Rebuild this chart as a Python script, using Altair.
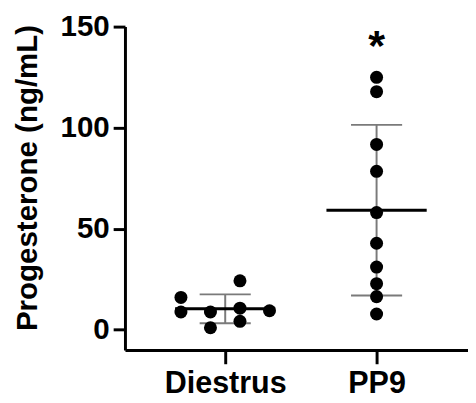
import altair as alt
import pandas as pd

# ---- data ----
groups = ["Diestrus", "PP9"]
diestrus_values = [16.0, 8.8, 8.8, 1.0, 24.2, 10.7, 4.2, 9.4]
diestrus_slots = [-1.5, -1.5, -0.5, -0.5, 0.5, 0.5, 0.5, 1.5]
pp9_values = [124.9, 117.8, 91.7, 78.4, 58.0, 42.8, 31.0, 22.8, 16.4, 7.8]
pp9_slots = [0, 0, 0, 0, 0, 0, 0, 0, 0, 0]
y_ticks = [0, 50, 100, 150]
star_label = "*"
star_value = 142

SLOT_W = 0.195  # horizontal spacing of beeswarm columns, in x units

rows = []
for v, s in zip(diestrus_values, diestrus_slots):
    rows.append({"group": "Diestrus", "gi": 1, "value": v, "xp": 1 + s * SLOT_W})
for v, s in zip(pp9_values, pp9_slots):
    rows.append({"group": "PP9", "gi": 2, "value": v, "xp": 2 + s * SLOT_W})
df = pd.DataFrame(rows)

star_df = pd.DataFrame({"gi": [2], "value": [star_value], "label": [star_label]})

FONT = "Liberation Sans"
xscale = alt.Scale(domain=[0.3377, 2.604], nice=False, zero=False)
yscale = alt.Scale(domain=[-10, 150], nice=False, zero=False)

xaxis = alt.Axis(
    values=[1, 2],
    labelExpr="datum.value == 1 ? 'Diestrus' : 'PP9'",
    title=None, grid=False,
    domainColor="black", domainWidth=3,
    tickColor="black", tickWidth=3, tickSize=14,
    labelFont=FONT, labelFontWeight="bold", labelFontSize=31,
    labelColor="black", labelPadding=5, labelFlush=False,
)
yaxis = alt.Axis(
    values=y_ticks, grid=False,
    title="Progesterone (ng/mL)",
    titleFont=FONT, titleFontWeight="bold", titleFontSize=30, titleColor="black",
    titleX=-84, titleY=153.5, titleBaseline="bottom", titleAngle=-90,
    domainColor="black", domainWidth=3,
    tickColor="black", tickWidth=3, tickSize=12,
    labelFont=FONT, labelFontWeight="bold", labelFontSize=30,
    labelColor="black", labelPadding=4,
)

base = alt.Chart(df)

stats = base.transform_aggregate(
    mean="mean(value)", sd="stdev(value)", groupby=["gi"]
).transform_calculate(
    lo="datum.mean - datum.sd", hi="datum.mean + datum.sd"
)

sd_rule = stats.mark_rule(color="#7a7a7a", strokeWidth=2).encode(
    x=alt.X("gi:Q", scale=xscale, axis=xaxis),
    y=alt.Y("lo:Q", scale=yscale, axis=yaxis),
    y2="hi:Q",
)
cap_hi = stats.mark_tick(orient="horizontal", size=52, thickness=2, color="#7a7a7a", opacity=1).encode(
    x=alt.X("gi:Q", scale=xscale), y=alt.Y("hi:Q", scale=yscale)
)
cap_lo = stats.mark_tick(orient="horizontal", size=52, thickness=2, color="#7a7a7a", opacity=1).encode(
    x=alt.X("gi:Q", scale=xscale), y=alt.Y("lo:Q", scale=yscale)
)
mean_line = stats.mark_tick(orient="horizontal", size=102, thickness=3, color="black", opacity=1).encode(
    x=alt.X("gi:Q", scale=xscale), y=alt.Y("mean:Q", scale=yscale)
)
points = base.mark_circle(size=175, color="black", opacity=1).encode(
    x=alt.X("xp:Q", scale=xscale), y=alt.Y("value:Q", scale=yscale)
)
star = alt.Chart(star_df).mark_text(
    font=FONT, fontSize=44, fontWeight="bold", color="black",
    baseline="alphabetic", align="center", dy=18,
).encode(
    x=alt.X("gi:Q", scale=xscale), y=alt.Y("value:Q", scale=yscale), text="label:N"
)

chart = alt.layer(sd_rule, cap_hi, cap_lo, mean_line, points, star).properties(
    width=349, height=329,
    autosize=alt.AutoSizeParams(type="none"),
    padding={"left": 119, "top": 15.5, "right": 0, "bottom": 50},
    background="white",
).configure_view(stroke=None)

chart.save("out.html", embed_options={"renderer": "svg", "actions": False})
